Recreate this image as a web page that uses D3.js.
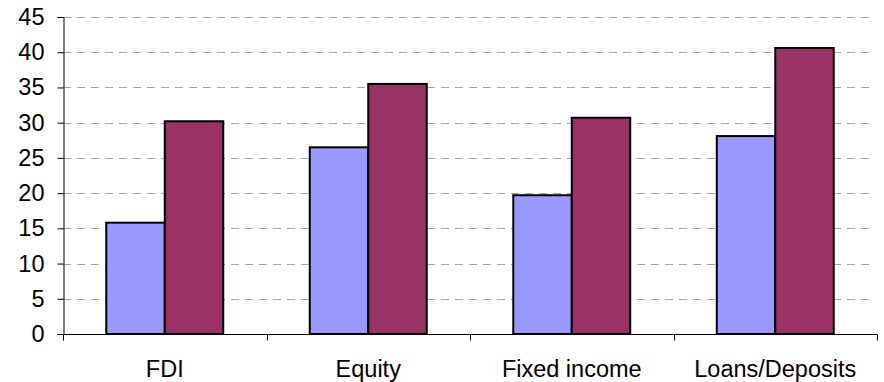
<!DOCTYPE html>
<html>
<head>
<meta charset="utf-8">
<script src="https://cdn.jsdelivr.net/npm/d3@7"></script>
<style>
  html, body { margin: 0; padding: 0; background: #fff; }
  svg { display: block; font-family: "Liberation Sans", Arial, sans-serif; }
</style>
</head>
<body>
<svg id="chart" width="884" height="382"></svg>
<script>
// Categories and the two series
const categories = ["FDI", "Equity", "Fixed income", "Loans/Deposits"];
const seriesA = [15.8, 26.5, 19.7, 28.1];
const seriesB = [30.2, 35.5, 30.7, 40.6];
const yTicks = [0, 5, 10, 15, 20, 25, 30, 35, 40, 45];
const colors = ["#9999FF", "#993366"];

const svg = d3.select("#chart");
const margin = { left: 63, right: 7, top: 17, bottom: 48 };
const W = 884, H = 382;
const plotW = W - margin.left - margin.right;
const plotH = H - margin.top - margin.bottom;

const x = d3.scaleBand().domain(categories).range([0, plotW]).paddingInner(0).paddingOuter(0);
const y = d3.scaleLinear().domain([0, 45]).range([plotH, 0]);
const inner = d3.scaleBand().domain([0, 1]).range([0, x.bandwidth()]).paddingOuter(0.74).paddingInner(0);

const g = svg.append("g").attr("transform", `translate(${margin.left},${margin.top})`);

// Dashed horizontal gridlines
g.append("g").selectAll("line").data(yTicks.filter(t => t > 0)).join("line")
  .attr("x1", 0).attr("x2", plotW - 6)
  .attr("y1", d => Math.round(y(d)) + 0.5).attr("y2", d => Math.round(y(d)) + 0.5)
  .attr("stroke", "#a6a6a6").attr("stroke-width", 1)
  .attr("stroke-dasharray", "8,6");

// Bars
const groups = g.append("g").selectAll("g").data(categories).join("g")
  .attr("transform", d => `translate(${x(d)},0)`);
groups.selectAll("rect").data((d, i) => [seriesA[i], seriesB[i]]).join("rect")
  .attr("x", (d, j) => inner(j))
  .attr("width", inner.bandwidth())
  .attr("y", d => y(d))
  .attr("height", d => plotH - y(d))
  .attr("fill", (d, j) => colors[j])
  .attr("stroke", "#000").attr("stroke-width", 2);

// Y axis
const yAxis = g.append("g").attr("transform", "translate(0.5,0)")
  .call(d3.axisLeft(y).tickValues(yTicks).tickSize(6).tickPadding(13));
yAxis.select(".domain").attr("stroke", "#000");
yAxis.selectAll(".tick line").attr("stroke", "#000");
yAxis.selectAll("text").attr("font-size", 23.5).attr("fill", "#000")
  .attr("font-family", "Liberation Sans, Arial, sans-serif");

// X axis with ticks at category boundaries
const xAxisG = g.append("g").attr("transform", `translate(0,${plotH + 0.5})`);
xAxisG.append("line").attr("x1", 0).attr("x2", plotW).attr("stroke", "#000");
xAxisG.selectAll("line.tk").data(d3.range(categories.length + 1)).join("line")
  .attr("class", "tk")
  .attr("x1", i => Math.round(i * x.step()) + 0.5).attr("x2", i => Math.round(i * x.step()) + 0.5)
  .attr("y1", 0).attr("y2", 6).attr("stroke", "#000");
xAxisG.selectAll("text").data(categories).join("text")
  .attr("x", d => x(d) + x.bandwidth() / 2)
  .attr("y", 42.5)
  .attr("text-anchor", "middle")
  .attr("font-size", 23.5)
  .attr("fill", "#000")
  .text(d => d);
</script>
</body>
</html>
